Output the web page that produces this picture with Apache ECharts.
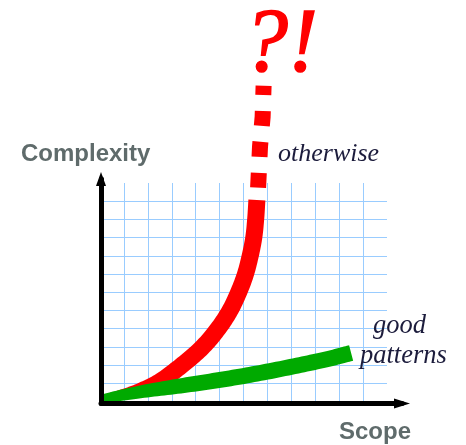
<!DOCTYPE html>
<html><head><meta charset="utf-8">
<script src="https://cdn.jsdelivr.net/npm/echarts@6/dist/echarts.min.js"></script>
<style>html,body{margin:0;padding:0;background:#fff}#c{width:466px;height:445px}</style>
</head><body><div id="c"></div>
<script>
// Data, in grid units (12 x 12 grid squares)
const gridMax = 12;
const redX = [0, 0.84, 1.67, 2.51, 3.39, 4.27, 4.93, 5.43, 5.80, 6.08, 6.28, 6.43, 6.51, 6.56];
const redY = [0.23, 0.39, 0.66, 1.13, 1.96, 2.97, 3.99, 4.99, 6.01, 6.99, 8.00, 9.01, 10.03, 11.07];
const redDashX = [6.61, 6.69, 6.80, 6.84];
const redDashY = [11.74, 13.99, 15.64, 17.34];
const greenX = [0, 1.67, 3.35, 5.02, 6.69, 8.37, 9.62, 10.50];
const greenY = [0.12, 0.53, 0.86, 1.19, 1.57, 2.01, 2.37, 2.67];
const labels = { y: 'Complexity', x: 'Scope', red: 'otherwise', greenTop: 'good', greenBottom: 'patterns', shout: '?!' };

function spline(pts, steps) {
  const out = [];
  for (let i = 0; i < pts.length - 1; i++) {
    const p0 = pts[Math.max(i - 1, 0)], p1 = pts[i], p2 = pts[i + 1], p3 = pts[Math.min(i + 2, pts.length - 1)];
    for (let s = 0; s < steps; s++) {
      const t = s / steps, t2 = t * t, t3 = t2 * t;
      const f = (a, b, c, d) => 0.5 * ((2 * b) + (-a + c) * t + (2 * a - 5 * b + 4 * c - d) * t2 + (-a + 3 * b - 3 * c + d) * t3);
      out.push([f(p0[0], p1[0], p2[0], p3[0]), f(p0[1], p1[1], p2[1], p3[1])]);
    }
  }
  out.push(pts[pts.length - 1]);
  return out;
}
function taper(pts, w0, w1, ramp) {
  const n = pts.length, cum = [0];
  for (let i = 1; i < n; i++) cum.push(cum[i - 1] + Math.hypot(pts[i][0] - pts[i - 1][0], pts[i][1] - pts[i - 1][1]));
  const L = cum[n - 1], left = [], right = [];
  for (let i = 0; i < n; i++) {
    const a = pts[Math.max(i - 1, 0)], b = pts[Math.min(i + 1, n - 1)];
    let tx = b[0] - a[0], ty = b[1] - a[1];
    const len = Math.hypot(tx, ty) || 1; tx /= len; ty /= len;
    const nx = -ty, ny = tx;
    const f = Math.min(1, cum[i] / L / ramp);
    const e = 1 - (1 - f) * (1 - f);
    const w = (w0 + (w1 - w0) * e) / 2;
    left.push([pts[i][0] + nx * w, pts[i][1] + ny * w]);
    right.push([pts[i][0] - nx * w, pts[i][1] - ny * w]);
  }
  return left.concat(right.reverse());
}
function brush(xs, ys, color, w0, w1, ramp) {
  return function (params, api) {
    const pts = xs.map((x, i) => api.coord([x, ys[i]]));
    return { type: 'polygon', shape: { points: taper(spline(pts, 12), w0, w1, ramp) }, style: { fill: color } };
  };
}

const chart = echarts.init(document.getElementById('c'), null, { renderer: 'canvas' });
const gridLine = { show: true, showMinLine: false, showMaxLine: false, lineStyle: { color: '#99ccff', width: 1 } };
const serifItalic = { fontFamily: 'Liberation Serif', fontStyle: 'italic', fontWeight: 'normal' };
chart.setOption({
  animation: false,
  backgroundColor: '#ffffff',
  grid: [
    { left: 100, top: 183, width: 287, height: 218.6, containLabel: false, outerBoundsMode: 'none' },
    { left: 101, top: 179, width: 301, height: 224.5, containLabel: false, outerBoundsMode: 'none' }
  ],
  xAxis: [
    { type: 'value', gridIndex: 0, min: 0, max: gridMax, interval: 1, axisLine: { show: false }, axisTick: { show: false }, axisLabel: { show: false }, splitLine: gridLine },
    { type: 'value', gridIndex: 1, min: 0, max: 1, z: 5, axisLine: { show: true, symbol: ['none', 'triangle'], symbolSize: [10, 16], lineStyle: { color: '#000', width: 5 } }, axisTick: { show: false }, axisLabel: { show: false }, splitLine: { show: false } }
  ],
  yAxis: [
    { type: 'value', gridIndex: 0, min: 0, max: gridMax, interval: 1, axisLine: { show: false }, axisTick: { show: false }, axisLabel: { show: false }, splitLine: gridLine },
    { type: 'value', gridIndex: 1, min: 0, max: 1, z: 5, axisLine: { show: true, symbol: ['none', 'triangle'], symbolSize: [10, 14], lineStyle: { color: '#000', width: 5 } }, axisTick: { show: false }, axisLabel: { show: false }, splitLine: { show: false } }
  ],
  title: [
    { text: labels.shout, left: 243, top: 2, padding: 0, textStyle: Object.assign({ color: '#ff0000', fontSize: 90, lineHeight: 90, textBorderColor: '#ff0000', textBorderWidth: 1.5 }, serifItalic) },
    { text: labels.red, left: 278, top: 141, padding: 0, textStyle: Object.assign({ color: '#1c1c3c', fontSize: 26, lineHeight: 26 }, serifItalic) },
    { text: labels.greenTop, left: 373, top: 313, padding: 0, textStyle: Object.assign({ color: '#1c1c3c', fontSize: 26.5, lineHeight: 26 }, serifItalic) },
    { text: labels.greenBottom, left: 360, top: 343, padding: 0, textStyle: Object.assign({ color: '#1c1c3c', fontSize: 26.5, lineHeight: 26 }, serifItalic) },
    { text: labels.y, left: 21, top: 142, padding: 0, textStyle: { color: '#5f6b6b', fontFamily: 'Liberation Sans', fontWeight: 'bold', fontSize: 24, lineHeight: 24 } },
    { text: labels.x, left: 339, top: 420, padding: 0, textStyle: { color: '#5f6b6b', fontFamily: 'Liberation Sans', fontWeight: 'bold', fontSize: 24, lineHeight: 24 } }
  ],
  series: [
    { type: 'custom', name: 'otherwise', xAxisIndex: 0, yAxisIndex: 0, data: [[0, 0]], silent: true, z: 2, renderItem: brush(redX, redY, '#ff0000', 3, 17, 0.3) },
    { type: 'line', name: 'otherwise (beyond)', xAxisIndex: 0, yAxisIndex: 0, clip: false, symbol: 'none', silent: true, z: 2,
      data: redDashX.map((x, i) => [x, redDashY[i]]),
      lineStyle: { color: '#ff0000', width: 16, type: [15, 16], cap: 'butt' } },
    { type: 'custom', name: 'good patterns', xAxisIndex: 0, yAxisIndex: 0, data: [[0, 0]], silent: true, z: 3, renderItem: brush(greenX, greenY, '#00aa00', 9, 16, 0.5) }
  ]
});
</script></body></html>
